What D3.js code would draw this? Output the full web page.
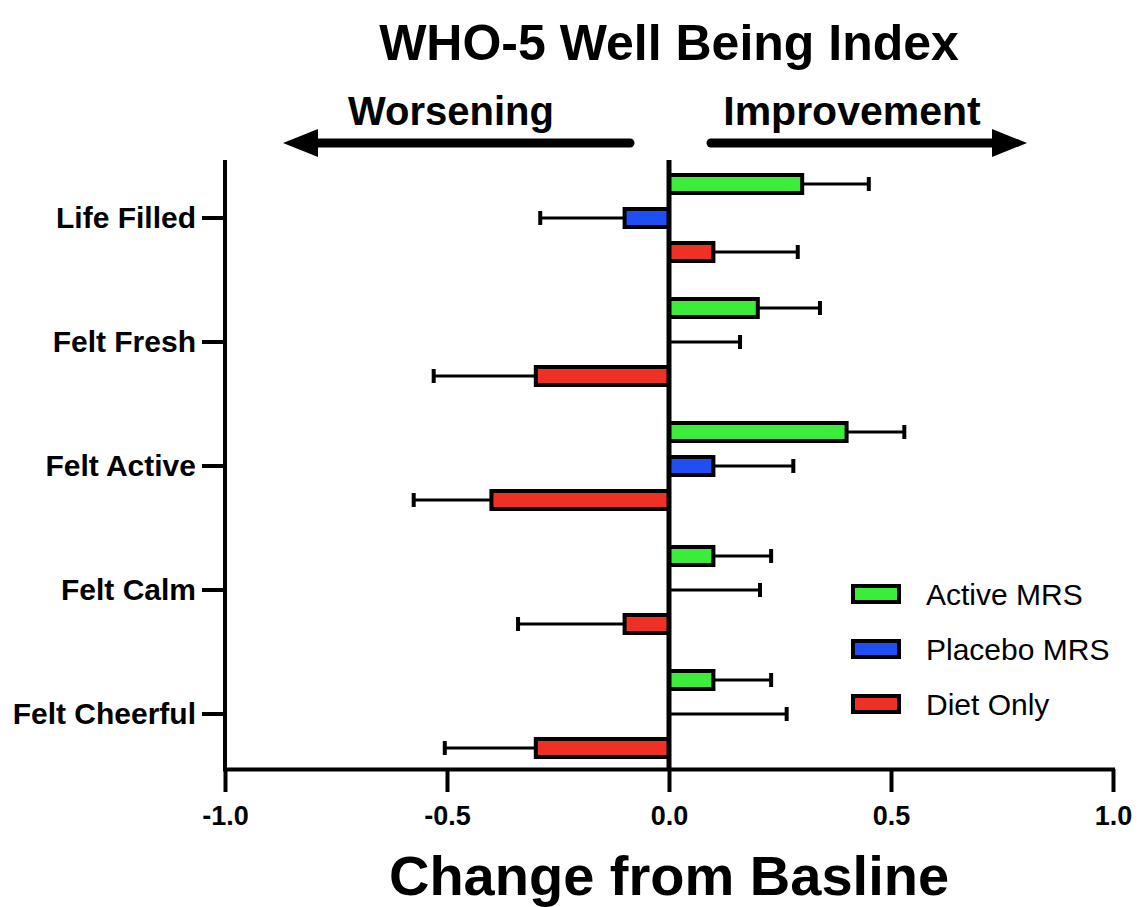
<!DOCTYPE html>
<html>
<head>
<meta charset="utf-8">
<script src="https://cdn.jsdelivr.net/npm/d3@7"></script>
<style>
  html, body { margin: 0; padding: 0; background: #fff; }
  svg { display: block; }
  text { font-family: "Liberation Sans", Arial, Helvetica, sans-serif; fill: #000; }
</style>
</head>
<body>
<svg id="chart" width="1139" height="907"></svg>
<script>
// ---- data ----
const categories = ["Life Filled", "Felt Fresh", "Felt Active", "Felt Calm", "Felt Cheerful"];
const seriesNames = ["Active MRS", "Placebo MRS", "Diet Only"];
const activeMRS    = [0.30, 0.20, 0.40, 0.10, 0.10];
const activeErr    = [0.15, 0.14, 0.13, 0.13, 0.13];
const placeboMRS   = [-0.10, 0.00, 0.10, 0.00, 0.00];
const placeboErr   = [0.19, 0.16, 0.18, 0.205, 0.265];
const dietOnly     = [0.10, -0.30, -0.40, -0.10, -0.30];
const dietErr      = [0.19, 0.23, 0.175, 0.24, 0.205];
const xTicks = [-1.0, -0.5, 0.0, 0.5, 1.0];
const xTickLabels = ["-1.0", "-0.5", "0.0", "0.5", "1.0"];
const seriesColors = ["#3cec3a", "#1f4ff2", "#ee3124"];

const values = [activeMRS, placeboMRS, dietOnly];
const errors = [activeErr, placeboErr, dietErr];

const svg = d3.select("#chart");

// ---- scales ----
const x = d3.scaleLinear().domain([-1, 1]).range([225, 1113]);
const y = d3.scaleBand().domain(categories).range([156, 776]).padding(0);
const ySub = d3.scalePoint().domain(seriesNames).range([-34, 34]);
const color = d3.scaleOrdinal().domain(seriesNames).range(seriesColors);

const axisTop = 160, axisBottomY = 769;
const barH = 18;

// ---- title ----
svg.append("text")
  .attr("x", x(0)).attr("y", 60)
  .attr("text-anchor", "middle")
  .style("font-size", "50px").style("font-weight", "bold")
  .text("WHO-5 Well Being Index");

svg.append("text")
  .attr("x", 451).attr("y", 125)
  .attr("text-anchor", "middle")
  .style("font-size", "40px").style("font-weight", "bold")
  .text("Worsening");
svg.append("text")
  .attr("x", 852).attr("y", 125)
  .attr("text-anchor", "middle")
  .style("font-size", "41px").style("font-weight", "bold")
  .text("Improvement");

// arrows
const arrowY = 143;
svg.append("line")
  .attr("x1", 630).attr("x2", 310).attr("y1", arrowY).attr("y2", arrowY)
  .attr("stroke", "#000").attr("stroke-width", 9).attr("stroke-linecap", "round");
svg.append("path")
  .attr("d", `M283,${arrowY} L318,${arrowY - 14} L318,${arrowY + 14} Z`)
  .attr("fill", "#000");
svg.append("line")
  .attr("x1", 711).attr("x2", 1000).attr("y1", arrowY).attr("y2", arrowY)
  .attr("stroke", "#000").attr("stroke-width", 9).attr("stroke-linecap", "round");
svg.append("path")
  .attr("d", `M1027,${arrowY} L992,${arrowY - 14} L992,${arrowY + 14} Z`)
  .attr("fill", "#000");

// ---- bars ----
const rows = [];
seriesNames.forEach((s, si) => {
  categories.forEach((c, ci) => {
    rows.push({ series: s, cat: c, v: values[si][ci], e: errors[si][ci] });
  });
});

const g = svg.append("g");

// error bars (drawn first, away from zero)
rows.forEach(d => {
  const dir = d.v < 0 ? -1 : 1;
  const cy = y(d.cat) + y.bandwidth() / 2 + ySub(d.series);
  const xv = x(d.v), xe = x(d.v + dir * d.e);
  g.append("line")
    .attr("x1", xv).attr("x2", xe).attr("y1", cy).attr("y2", cy)
    .attr("stroke", "#000").attr("stroke-width", 3);
  g.append("line")
    .attr("x1", xe).attr("x2", xe).attr("y1", cy - 7).attr("y2", cy + 7)
    .attr("stroke", "#000").attr("stroke-width", 4);
});

g.selectAll("rect.bar").data(rows.filter(d => d.v !== 0)).join("rect")
  .attr("class", "bar")
  .attr("x", d => Math.min(x(0), x(d.v)))
  .attr("width", d => Math.abs(x(d.v) - x(0)))
  .attr("y", d => y(d.cat) + y.bandwidth() / 2 + ySub(d.series) - barH / 2)
  .attr("height", barH)
  .attr("fill", d => color(d.series))
  .attr("stroke", "#000").attr("stroke-width", 4);

// ---- axes ----
const xAxis = svg.append("g")
  .attr("transform", `translate(0,${axisBottomY})`)
  .call(d3.axisBottom(x).tickValues(xTicks).tickFormat((d, i) => xTickLabels[i])
        .tickSize(23).tickSizeOuter(0).tickPadding(14));
xAxis.select(".domain").attr("stroke-width", 4).attr("d", `M${x(-1) - 2},0.5H${x(1) + 2}`);
xAxis.selectAll(".tick line").attr("stroke-width", 4);
xAxis.selectAll(".tick text")
  .style("font-size", "27px").style("font-weight", "bold")
  .style("font-family", "'Liberation Sans', Arial, sans-serif");

const yAxis = svg.append("g")
  .attr("transform", `translate(${x(-1)},0)`)
  .call(d3.axisLeft(y).tickSize(23).tickSizeOuter(0).tickPadding(6));
yAxis.select(".domain").remove();
yAxis.selectAll(".tick line").attr("stroke-width", 4);
yAxis.selectAll(".tick text")
  .style("font-size", "30px").style("font-weight", "bold")
  .style("font-family", "'Liberation Sans', Arial, sans-serif");

svg.append("line")
  .attr("x1", x(-1)).attr("x2", x(-1)).attr("y1", axisTop).attr("y2", axisBottomY + 2)
  .attr("stroke", "#000").attr("stroke-width", 4);

// zero line
svg.append("line")
  .attr("x1", x(0)).attr("x2", x(0)).attr("y1", axisTop).attr("y2", axisBottomY)
  .attr("stroke", "#000").attr("stroke-width", 5);

// x axis title
svg.append("text")
  .attr("x", x(0)).attr("y", 895)
  .attr("text-anchor", "middle")
  .style("font-size", "56px").style("font-weight", "bold")
  .text("Change from Basline");

// ---- legend ----
const legend = svg.append("g");
const legendY = d3.scalePoint().domain(seriesNames).range([594, 704]);
seriesNames.forEach(s => {
  legend.append("rect")
    .attr("x", 853).attr("y", legendY(s) - 8).attr("width", 46).attr("height", 16)
    .attr("fill", color(s)).attr("stroke", "#000").attr("stroke-width", 4);
  legend.append("text")
    .attr("x", 926).attr("y", legendY(s)).attr("dy", "0.35em")
    .style("font-size", "30px")
    .text(s);
});
</script>
</body>
</html>
